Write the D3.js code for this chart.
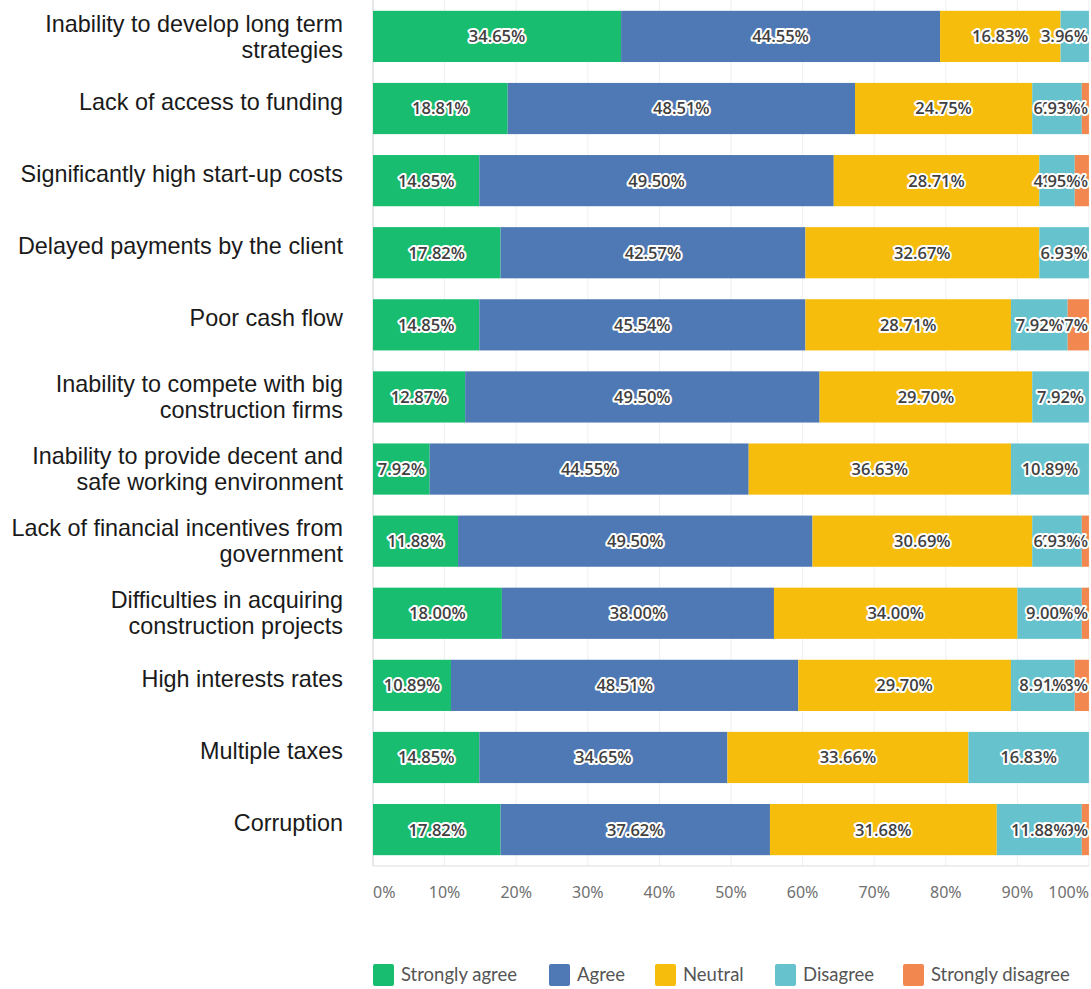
<!DOCTYPE html>
<html>
<head>
<meta charset="utf-8">
<script src="https://cdn.jsdelivr.net/npm/d3@7"></script>
<style>
  body { margin: 0; background: #fff; }
  svg { display: block; }
</style>
</head>
<body>
<svg width="1091" height="989"></svg>
<script>
var categories = [
    "Inability to develop long term\nstrategies",
    "Lack of access to funding",
    "Significantly high start-up costs",
    "Delayed payments by the client",
    "Poor cash flow",
    "Inability to compete with big\nconstruction firms",
    "Inability to provide decent and\nsafe working environment",
    "Lack of financial incentives from\ngovernment",
    "Difficulties in acquiring\nconstruction projects",
    "High interests rates",
    "Multiple taxes",
    "Corruption"
];
var seriesNames = ["Strongly agree", "Agree", "Neutral", "Disagree", "Strongly disagree"];
var stronglyAgree = [34.65, 18.81, 14.85, 17.82, 14.85, 12.87, 7.92, 11.88, 18.00, 10.89, 14.85, 17.82];
var agree = [44.55, 48.51, 49.50, 42.57, 45.54, 49.50, 44.55, 49.50, 38.00, 48.51, 34.65, 37.62];
var neutral = [16.83, 24.75, 28.71, 32.67, 28.71, 29.70, 36.63, 30.69, 34.00, 29.70, 33.66, 31.68];
var disagree = [3.96, 6.93, 4.95, 6.93, 7.92, 7.92, 10.89, 6.93, 9.00, 8.91, 16.83, 11.88];
var stronglyDisagree = [0, 0.99, 1.98, 0, 2.97, 0, 0, 0.99, 1.00, 1.98, 0, 0.99];
var tickValues = [0, 10, 20, 30, 40, 50, 60, 70, 80, 90, 100];
var colors = ["#19bd70", "#4f79b4", "#f7bd0c", "#66c3ce", "#f2874f"];

var svg = d3.select("svg");
var plotLeft = 373, plotRight = 1089, plotTop = 0, plotBottom = 866;

var rows = categories.map(function (c, i) {
    return {
        name: c,
        values: [stronglyAgree[i], agree[i], neutral[i], disagree[i], stronglyDisagree[i]]
    };
});

var x = d3.scaleLinear().domain([0, 100]).range([plotLeft, plotRight]);
var y = d3.scaleBand()
    .domain(d3.range(categories.length))
    .range([plotTop, plotBottom])
    .paddingInner(0.29)
    .paddingOuter(0.15);

// grid
svg.append("g")
    .selectAll("line")
    .data(tickValues)
    .enter().append("line")
    .attr("x1", function (d) { return x(d); })
    .attr("x2", function (d) { return x(d); })
    .attr("y1", plotTop)
    .attr("y2", plotBottom)
    .attr("stroke", "#efefef");

svg.append("line")
    .attr("x1", plotLeft).attr("x2", plotLeft)
    .attr("y1", plotTop).attr("y2", plotBottom)
    .attr("stroke", "#d8d8d8");
svg.append("line")
    .attr("x1", plotLeft).attr("x2", plotRight)
    .attr("y1", plotBottom).attr("y2", plotBottom)
    .attr("stroke", "#dddddd");

// bars
var rowG = svg.append("g")
    .selectAll("g")
    .data(rows)
    .enter().append("g")
    .attr("transform", function (d, i) { return "translate(0," + y(i) + ")"; });

rowG.each(function (d) {
    var g = d3.select(this);
    var acc = 0;
    var segs = d.values.map(function (v, k) {
        var s = { v: v, k: k, x0: acc, x1: acc + v };
        acc += v;
        return s;
    }).filter(function (s) { return s.v > 0; });

    g.selectAll("rect")
        .data(segs)
        .enter().append("rect")
        .attr("x", function (s) { return x(s.x0); })
        .attr("width", function (s) { return x(s.x1) - x(s.x0); })
        .attr("y", 0)
        .attr("height", y.bandwidth())
        .attr("fill", function (s) { return colors[s.k]; });

    // labels drawn last segment first so earlier ones overlap it
    segs.slice().reverse().forEach(function (s) {
        var t = g.append("text")
            .attr("y", y.bandwidth() / 2)
            .attr("dy", "0.36em")
            .attr("text-anchor", "middle")
            .attr("font-family", "'Open Sans', sans-serif")
            .attr("font-size", 16.5)
            .attr("font-weight", 600)
            .attr("fill", "#404040")
            .attr("stroke", "#ffffff")
            .attr("stroke-width", 4)
            .attr("stroke-linejoin", "round")
            .attr("paint-order", "stroke")
            .text(s.v.toFixed(2) + "%");
        var w = t.node().getComputedTextLength();
        var cx = x((s.x0 + s.x1) / 2);
        cx = Math.max(plotLeft + w / 2 + 2, Math.min(plotRight - w / 2 - 1, cx));
        t.attr("x", cx);
    });
});

// category labels
svg.append("g")
    .selectAll("text")
    .data(rows)
    .enter().append("text")
    .attr("text-anchor", "end")
    .attr("font-family", "'Liberation Sans', Arial, sans-serif")
    .attr("font-size", 23.4)
    .attr("fill", "#1a1a1a")
    .each(function (d, i) {
        var lines = d.name.split("\n");
        var cy = y(i) + y.bandwidth() / 2 + (lines.length > 1 ? 0 : -7);
        var lh = 26;
        var t = d3.select(this);
        lines.forEach(function (l, j) {
            t.append("tspan")
                .attr("x", 343)
                .attr("y", cy + (j - (lines.length - 1) / 2) * lh)
                .attr("dy", "0.35em")
                .text(l);
        });
    });

// x axis labels
svg.append("g")
    .selectAll("text")
    .data(tickValues)
    .enter().append("text")
    .attr("x", function (d) { return x(d); })
    .attr("y", 898)
    .attr("text-anchor", function (d, i) {
        return i === 0 ? "start" : (i === tickValues.length - 1 ? "end" : "middle");
    })
    .attr("font-family", "'Noto Sans', sans-serif")
    .attr("font-size", 16)
    .attr("fill", "#707070")
    .text(function (d) { return d + "%"; });

// legend
var legendX = [373, 549, 655, 775, 903];
var legend = svg.append("g")
    .selectAll("g")
    .data(seriesNames)
    .enter().append("g")
    .attr("transform", function (d, i) { return "translate(" + legendX[i] + ",964)"; });
legend.append("rect")
    .attr("width", 21).attr("height", 22).attr("rx", 2)
    .attr("fill", function (d, i) { return colors[i]; });
legend.append("text")
    .attr("x", 28).attr("y", 11).attr("dy", "0.35em")
    .attr("font-family", "Lato, sans-serif")
    .attr("font-size", 18.5)
    .attr("fill", "#555555")
    .text(function (d) { return d; });
</script>
</body>
</html>
